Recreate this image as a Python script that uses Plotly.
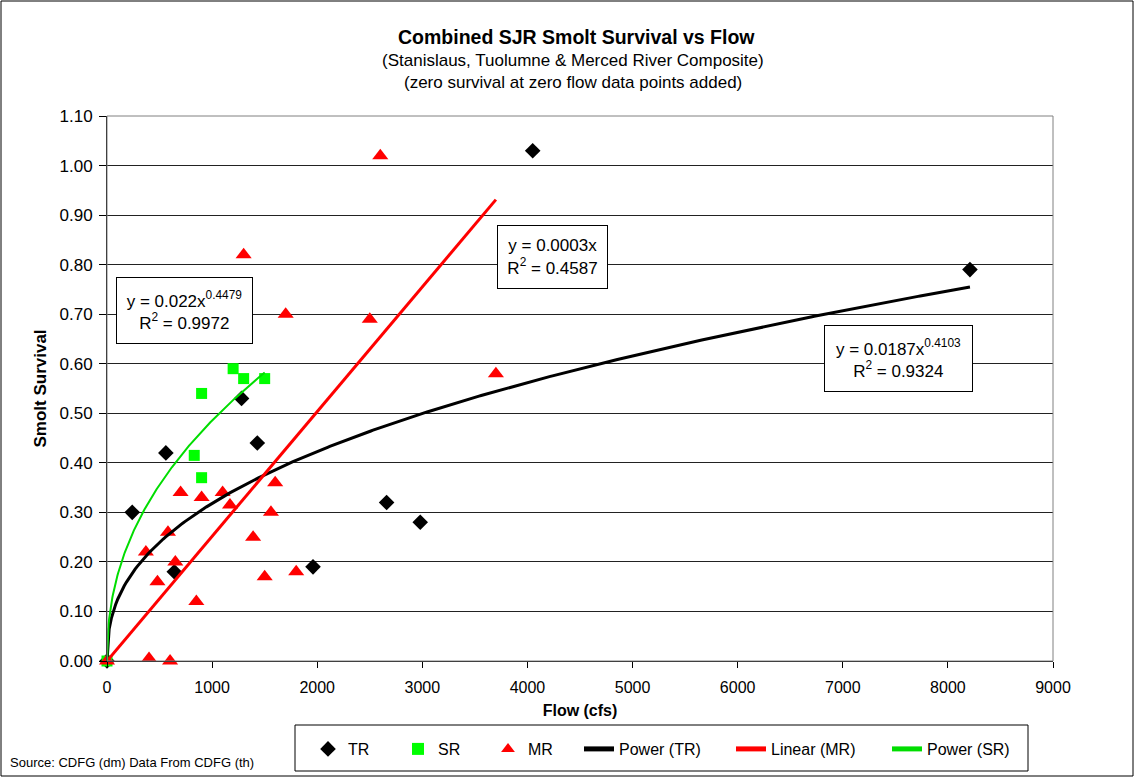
import numpy as np
import plotly.graph_objects as go

# ---- data ----
tr_flow = [0, 240, 560, 640, 1280, 1430, 1960, 2660, 2980, 4050, 8210]
tr_surv = [0.0, 0.30, 0.42, 0.18, 0.53, 0.44, 0.19, 0.32, 0.28, 1.03, 0.79]

sr_flow = [0, 830, 900, 900, 1200, 1300, 1500]
sr_surv = [0.0, 0.415, 0.37, 0.54, 0.59, 0.57, 0.57]

mr_flow = [0, 400, 600, 370, 480, 580, 650, 700, 850, 900, 1100, 1170, 1300,
           1390, 1500, 1560, 1600, 1700, 1800, 2500, 2600, 3700]
mr_surv = [0.0, 0.005, 0.0, 0.22, 0.16, 0.26, 0.20, 0.34, 0.12, 0.33, 0.34, 0.315,
           0.82, 0.25, 0.17, 0.30, 0.36, 0.70, 0.18, 0.69, 1.02, 0.58]

# trendline coefficients as displayed in the chart
tr_a, tr_b = 0.0187, 0.4103
sr_a, sr_b = 0.022, 0.4479

eq_tr = "y = 0.0187x<sup>0.4103</sup><br>R<sup>2</sup> = 0.9324"
eq_sr = "y = 0.022x<sup>0.4479</sup><br>R<sup>2</sup> = 0.9972"
eq_mr = "y = 0.0003x<br>R<sup>2</sup> = 0.4587"

# ---- trendlines ----
x_tr = np.linspace(0, max(tr_flow), 400)
y_tr = tr_a * x_tr ** tr_b
x_sr = np.linspace(0, max(sr_flow), 300)
y_sr = sr_a * x_sr ** sr_b
mx = np.array(mr_flow, float); my = np.array(mr_surv, float)
slope = (mx * my).sum() / (mx * mx).sum()   # linear fit through origin
x_mr = np.array([0, max(mr_flow)])
y_mr = slope * x_mr

FONT = "Arial, Liberation Sans, sans-serif"

fig = go.Figure()
fig.add_trace(go.Scatter(x=tr_flow, y=tr_surv, mode="markers", name="TR", cliponaxis=False,
                         legend="legend",
                         marker=dict(symbol="diamond", size=12, color="black")))
fig.add_trace(go.Scatter(x=sr_flow, y=sr_surv, mode="markers", name="SR", cliponaxis=False,
                         legend="legend2",
                         marker=dict(symbol="square", size=11, color="#00FF00")))
fig.add_trace(go.Scatter(x=mr_flow, y=mr_surv, mode="markers", name="MR", cliponaxis=False,
                         legend="legend3",
                         marker=dict(symbol="triangle-up", size=14, color="#FF0000")))
fig.add_trace(go.Scatter(x=x_tr, y=y_tr, mode="lines", name="Power (TR)", legend="legend4",
                         line=dict(color="black", width=3)))
fig.add_trace(go.Scatter(x=x_mr, y=y_mr, mode="lines", name="Linear (MR)", legend="legend5",
                         line=dict(color="#FF0000", width=3)))
fig.add_trace(go.Scatter(x=x_sr, y=y_sr, mode="lines", name="Power (SR)", legend="legend6",
                         line=dict(color="#00DD00", width=2)))

L, R, T, B = 107, 82, 116, 117
W, H = 1135, 778
pw, ph = W - L - R, H - T - B

def px(xp):
    return (xp - L) / pw

def py(yp):
    return (H - B - yp) / ph

def leg(xleft):
    return dict(x=px(xleft), y=py(749), xanchor="left", yanchor="middle",
                bgcolor="rgba(0,0,0,0)", borderwidth=0, itemsizing="constant",
                font=dict(size=16, family=FONT))

fig.update_layout(
    width=W, height=H,
    margin=dict(l=L, r=R, t=T, b=B, autoexpand=False),
    paper_bgcolor="white", plot_bgcolor="white",
    font=dict(family=FONT, color="black", size=14),
    showlegend=True,
    legend=leg(308), legend2=leg(398), legend3=leg(488),
    legend4=leg(579), legend5=leg(731), legend6=leg(887),
    xaxis=dict(range=[0, 9000], dtick=1000, tickformat="d", showgrid=False, zeroline=False,
               showline=True, linecolor="black", linewidth=1, ticks="outside", ticklen=6,
               tickcolor="black", tickfont=dict(size=16), ticklabelstandoff=6,
               title=dict(text="<b>Flow (cfs)</b>", font=dict(size=16), standoff=9)),
    yaxis=dict(range=[0, 1.1], dtick=0.1, tickformat=".2f", showgrid=True, gridcolor="#222222",
               gridwidth=1, zeroline=False, showline=True, linecolor="black", linewidth=1,
               ticks="outside", ticklen=7, tickcolor="black", tickfont=dict(size=17),
               ticklabelstandoff=3,
               title=dict(text="<b>Smolt Survival</b>", font=dict(size=17), standoff=8)),
)

# plot frame, legend box and outer chart border
fig.add_shape(type="rect", xref="paper", yref="paper", x0=0, y0=0, x1=1, y1=1,
              line=dict(color="#808080", width=1), layer="above")
fig.add_shape(type="rect", xref="paper", yref="paper", x0=px(295), y0=py(771), x1=px(1028), y1=py(725),
              line=dict(color="black", width=1))
fig.add_shape(type="rect", xref="paper", yref="paper", x0=px(1), y0=py(776), x1=px(1133), y1=py(1),
              line=dict(color="black", width=1))

# titles
def note(text, xp, yp, size, xanchor="center", **kw):
    fig.add_annotation(xref="paper", yref="paper", x=px(xp), y=py(yp), showarrow=False,
                       xanchor=xanchor, yanchor="middle", text=text, font=dict(size=size), **kw)

note("<b>Combined SJR Smolt Survival vs Flow</b>", 576, 37, 19.5)
note("(Stanislaus, Tuolumne & Merced River Composite)", 573, 61, 17)
note("(zero survival at zero flow data points added)", 573, 82, 17)
note("Source: CDFG (dm) Data From CDFG (th)", 8, 762, 13, xanchor="left")

# equation boxes (center x, center y, width, height in px)
for txt, xp, yp, w, h in [(eq_sr, 184.5, 310.5, 137, 67), (eq_mr, 552.5, 257, 111, 64),
                          (eq_tr, 898.5, 358.5, 149, 67)]:
    note(txt, xp, yp, 17, align="center", valign="middle", bgcolor="white",
         bordercolor="black", borderwidth=1, borderpad=1, width=w - 4, height=h - 4)

fig.write_html("out.html", post_script="document.body.style.margin='0';",
               config={"displayModeBar": False})
